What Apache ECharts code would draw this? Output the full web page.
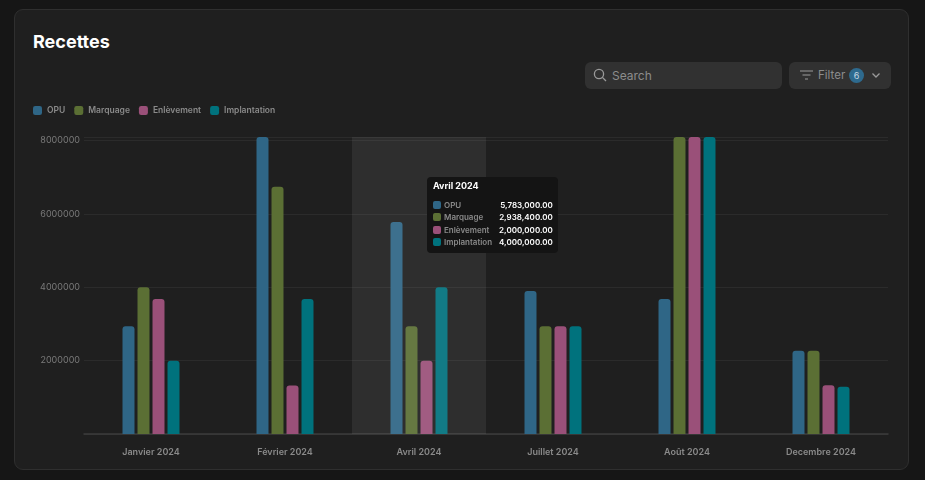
<!DOCTYPE html>
<html>
<head>
<meta charset="utf-8">
<title>Recettes</title>
<script src="https://cdn.jsdelivr.net/npm/echarts@6/dist/echarts.min.js"></script>
<style>
    html, body { margin: 0; padding: 0; background: #161616; font-family: Inter, 'Noto Sans', sans-serif; }
    .card { position: absolute; left: 14px; top: 9px; width: 895px; height: 461px; background: #1f1f1f; border: 1px solid #2f2f2f; border-radius: 9px; box-sizing: border-box; }
    .title { position: absolute; left: 33px; top: 31px; color: #fff; font-size: 18px; font-weight: 700; }
    .search { position: absolute; left: 585px; top: 62px; width: 197px; height: 27px; background: #313131; border-radius: 6px; color: #8c8c8c; font-size: 12px; }
    .search span { position: absolute; left: 27px; top: 6px; }
    .search svg { position: absolute; left: 8px; top: 6px; }
    .filter { position: absolute; left: 789px; top: 62px; width: 102px; height: 27px; background: #313131; border-radius: 6px; color: #8c8c8c; font-size: 11.5px; }
    .filter .lbl { position: absolute; left: 29px; top: 6px; }
    .filter .badge { position: absolute; left: 60px; top: 6px; width: 15px; height: 15px; border-radius: 50%; background: #2e6a8e; color: #c8d8e4; font-size: 9px; text-align: center; line-height: 15px; }
    .filter svg.ic { position: absolute; left: 11px; top: 8px; }
    .filter svg.ch { position: absolute; left: 83px; top: 11px; }
    #chart { position: absolute; left: 0; top: 0; width: 925px; height: 480px; }
</style>
</head>
<body>
<div class="card"></div>
<div class="title">Recettes</div>
<div class="search">
    <svg width="14" height="14" viewBox="0 0 14 14"><circle cx="6" cy="6" r="4.6" stroke="#9a9a9a" stroke-width="1.3" fill="none"/><line x1="9.4" y1="9.4" x2="13" y2="13" stroke="#9a9a9a" stroke-width="1.3"/></svg>
    <span>Search</span>
</div>
<div class="filter">
    <svg class="ic" width="13" height="10" viewBox="0 0 13 10"><line x1="0" y1="1" x2="13" y2="1" stroke="#8c8c8c" stroke-width="1.2"/><line x1="2.5" y1="5" x2="10.5" y2="5" stroke="#8c8c8c" stroke-width="1.2"/><line x1="5" y1="9" x2="8" y2="9" stroke="#8c8c8c" stroke-width="1.2"/></svg>
    <span class="lbl">Filter</span>
    <span class="badge">6</span>
    <svg class="ch" width="8" height="5" viewBox="0 0 8 5"><polyline points="0.5,0.5 4,4 7.5,0.5" stroke="#9a9a9a" stroke-width="1.3" fill="none"/></svg>
</div>
<div id="chart"></div>
<script>
    // mois affichés
    var months = ['Janvier 2024', 'Février 2024', 'Avril 2024', 'Juillet 2024', 'Août 2024', 'Decembre 2024'];
    var seriesNames = ['OPU', 'Marquage', 'Enlèvement', 'Implantation'];
    var seriesColors = ['#2f6686', '#5b6f34', '#9a5079', '#00727d'];

    // valeurs
    var opuData = [2938400, 8100000, 5783000, 3900000, 3680000, 2270000];
    var marquageData = [4000000, 6740000, 2938400, 2938400, 8100000, 2270000];
    var enlevementData = [3680000, 1320000, 2000000, 2938400, 8100000, 1330000];
    var implantationData = [2000000, 3680000, 4000000, 2938400, 8100000, 1290000];

    var yTicks = [0, 2000000, 4000000, 6000000, 8000000];

    var allData = [opuData, marquageData, enlevementData, implantationData];

    var chart = echarts.init(document.getElementById('chart'));

    var seriesArr = [];
    for (var i = 0; i < seriesNames.length; i++) {
        seriesArr.push({
            name: seriesNames[i],
            type: 'bar',
            data: allData[i],
            barWidth: 12,
            barGap: '25%',
            itemStyle: { color: seriesColors[i], borderRadius: [3, 3, 0, 0] },
            emphasis: { disabled: true }
        });
    }

    function fmt(v) {
        return v.toLocaleString('en-US', { minimumFractionDigits: 2, maximumFractionDigits: 2 });
    }

    var option = {
        animation: false,
        backgroundColor: 'transparent',
        textStyle: { fontFamily: 'Inter, sans-serif' },
        legend: {
            left: 28,
            top: 101,
            icon: 'roundRect',
            itemWidth: 9,
            itemHeight: 9,
            itemGap: 9,
            textStyle: { color: '#8a8a8a', fontSize: 8.5, fontWeight: 600, padding: [0, 0, 0, 0] },
            data: seriesNames
        },
        grid: { left: 84, right: 37, top: 137, bottom: 46 },
        tooltip: {
            trigger: 'axis',
            axisPointer: { type: 'shadow', shadowStyle: { color: 'rgba(255,255,255,0.07)' } },
            backgroundColor: '#141414',
            borderWidth: 0,
            padding: [3, 5, 5, 6],
            extraCssText: 'border-radius:4px;box-shadow:none;',
            position: function () { return [427, 177]; },
            formatter: function (params) {
                var html = '<div style="color:#fff;font-size:9px;font-weight:700;line-height:12px;margin-bottom:7px;font-family:Inter">' + params[0].name + '</div>';
                params.forEach(function (p) {
                    html += '<div style="display:flex;align-items:center;font-size:8px;font-weight:600;line-height:12.3px;font-family:Inter">' +
                        '<span style="display:inline-block;width:8px;height:8px;border-radius:2px;background:' + p.color + ';margin-right:3px"></span>' +
                        '<span style="color:#8a8a8a;width:54px">' + p.seriesName + '</span>' +
                        '<span style="color:#fff;margin-left:auto;padding-left:1px">' + fmt(p.value) + '</span></div>';
                });
                return html;
            }
        },
        xAxis: {
            type: 'category',
            data: months,
            axisLine: { lineStyle: { color: '#3c3c3c', width: 1.5 } },
            axisTick: { show: false },
            axisLabel: { color: '#8a8a8a', fontSize: 9, fontWeight: 600, margin: 14 }
        },
        yAxis: {
            type: 'value',
            min: yTicks[0],
            max: 8100000,
            interval: yTicks[1] - yTicks[0],
            axisLine: { show: false },
            axisTick: { show: false },
            axisLabel: {
                color: '#7a7a7a', fontSize: 9, margin: 4,
                formatter: function (v) { return (v === 0 || v > yTicks[yTicks.length - 1]) ? '' : String(v); }
            },
            splitLine: { lineStyle: { color: '#2b2b2b', width: 1 } }
        },
        series: seriesArr
    };

    chart.setOption(option);
    chart.dispatchAction({ type: 'showTip', seriesIndex: 0, dataIndex: 2 });
</script>
</body>
</html>
